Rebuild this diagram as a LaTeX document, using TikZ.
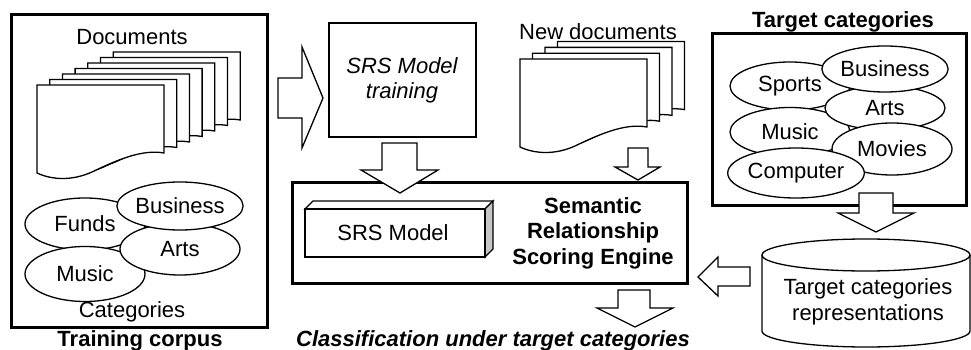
\documentclass[tikz,border=0pt]{standalone}
\usepackage{fontspec}
\setmainfont{Liberation Sans}
\usetikzlibrary{shapes.geometric}

\begin{document}
\begin{tikzpicture}[x=1pt,y=-1pt,
  line join=miter,
  thinline/.style={line width=1.3pt},
  thickbox/.style={line width=3pt},
  txt/.style={font=\fontsize{22}{25.5}\selectfont},
  lbl/.style={txt, inner sep=0pt, align=center},
  cat/.style={ellipse, draw, thinline, fill=white, inner sep=0pt,
              minimum width=120pt, txt},
  blockarrow/.style={draw, thinline, fill=white},
  page/.style={draw, thinline, fill=white},
  docpage/.pic={\path[page] (0,0) -- (127,0) -- (127,68)
      .. controls (105,64) and (80,75) .. (55,87)
      .. controls (35,96) and (15,95) .. (0,88) -- cycle;}
]
\useasboundingbox (0,0) rectangle (971,350);

% ---------- training corpus ----------
\draw[thickbox] (11,15) rectangle (267,327);
\node[lbl] (docs) at (132,37) {Documents};
\foreach \k in {6,...,0}
  \pic (tp\k) at ({37+12.7*\k},{85-5.5*\k}) {docpage};
\node[cat, minimum height=52pt] (funds) at (85,224) {Funds};
\node[cat, minimum height=55pt] (music1) at (85,274) {Music};
\node[cat, minimum height=52pt] (arts1) at (180,249) {Arts};
\node[cat, minimum height=48pt] (bus1) at (180,206) {Business};
\node[lbl] (cats) at (132,312) {Categories};
\node[lbl, font=\fontsize{22}{25.5}\selectfont\bfseries] (corpus) at (140,341) {Training corpus};

% ---------- arrow into the training step ----------
\path[blockarrow] (278,78) -- (302,78) -- (302,47) -- (323,98) -- (302,148)
  -- (302,118) -- (278,118) -- cycle;

% ---------- SRS model training ----------
\draw[thinline] (329,23) rectangle (476,137);
\node[lbl, font=\fontsize{22}{25}\selectfont\itshape] (train) at (402,80) {SRS Model\\training};

% ---------- new documents ----------
\node[lbl] (newdocs) at (598,32) {New documents};
\foreach \k in {3,...,0}
  \pic (np\k) at ({520+12.5*\k},{59-5.8*\k}) {docpage};

% ---------- scoring engine ----------
\draw[thickbox] (292,182) rectangle (687,283);
\draw[thinline, fill=white] (305,209) -- (313,201) -- (493,201) -- (485,209) -- cycle;
\draw[thinline, fill=black!22] (485,209) -- (493,201) -- (493,249) -- (485,257) -- cycle;
\draw[thinline, fill=white] (305,209) rectangle (485,257);
\node[lbl] (model) at (393,233) {SRS Model};
\node[lbl, font=\fontsize{22}{25.5}\selectfont\bfseries] (engine) at (593,233)
  {Semantic\\Relationship\\Scoring Engine};

\path[blockarrow] (382,143) -- (417,143) -- (417,170) -- (438,170) -- (400,193)
  -- (361,170) -- (382,170) -- cycle;
\path[blockarrow] (628,148) -- (648,148) -- (648,167) -- (660,167) -- (638,180)
  -- (615,167) -- (628,167) -- cycle;
\path[blockarrow] (618,290) -- (650,290) -- (650,308) -- (673,308) -- (635,327)
  -- (597,308) -- (618,308) -- cycle;
\node[lbl, font=\fontsize{22}{25.5}\selectfont\bfseries\itshape] (result) at (493,341)
  {Classification under target categories};

% ---------- target categories ----------
\node[lbl, font=\fontsize{22}{25.5}\selectfont\bfseries] (tctitle) at (843,22) {Target categories};
\draw[thickbox] (712,34) rectangle (966,205);
\node[cat, minimum height=48pt] (sports) at (790,86) {Sports};
\node[cat, minimum height=49pt] (music2) at (790,132) {Music};
\node[cat, minimum height=44pt] (arts2) at (885,108) {Arts};
\node[cat, minimum height=46pt] (bus2) at (885,69) {Business};
\node[cat, minimum height=52pt] (movies) at (892,149) {Movies};
\node[cat, minimum height=50pt] (comp) at (796,173) {Computer};

\path[blockarrow] (859,193) -- (893,193) -- (893,213) -- (914,213) -- (876,232)
  -- (838,213) -- (859,213) -- cycle;

% ---------- stored representations ----------
\draw[thinline, fill=white] (762,255) -- (762,331)
  arc[start angle=180, end angle=360, x radius=104pt, y radius=16pt]
  -- (970,255)
  arc[start angle=0, end angle=180, x radius=104pt, y radius=16pt] -- cycle;
\draw[thinline] (762,255) arc[start angle=180, end angle=360, x radius=104pt, y radius=16pt];
\node[lbl] (reps) at (868,302) {Target categories\\representations};

\path[blockarrow] (750,267) -- (750,286) -- (718,286) -- (718,296) -- (698,277)
  -- (718,257) -- (718,267) -- cycle;
\end{tikzpicture}
\end{document}
